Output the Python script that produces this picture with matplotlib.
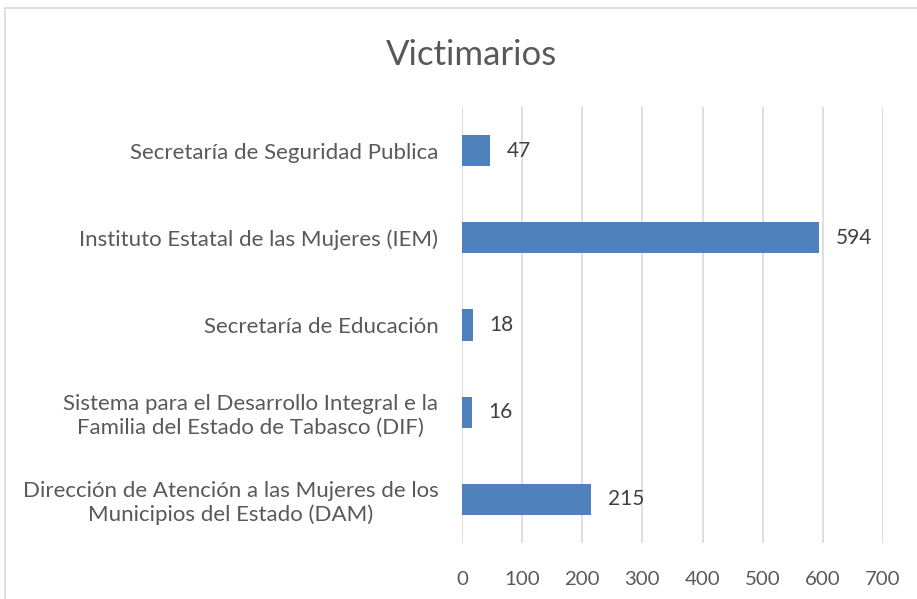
from matplotlib import pyplot as plt
from matplotlib.patches import Rectangle

categories = ["Secretaría de Seguridad Publica",
              "Instituto Estatal de las Mujeres (IEM)",
              "Secretaría de Educación",
              "Sistema para el Desarrollo Integral e la\nFamilia del Estado de Tabasco (DIF)",
              "Dirección de Atención a las Mujeres de los\nMunicipios del Estado (DAM)"]
values = [47, 594, 18, 16, 215]
x_ticks = [0, 100, 200, 300, 400, 500, 600, 700]

plt.rcParams['font.family'] = ['Lato', 'DejaVu Sans']
txt_color = '#595959'

fig = plt.figure(figsize=(9.17, 5.99), dpi=100)
fig.patches.append(Rectangle((5 / 917, -0.05), 1.1, 1.05 - 8 / 599,
                             transform=fig.transFigure, fill=False,
                             edgecolor='#d9d9d9', linewidth=1.2))
ax = fig.add_axes([462 / 917, 1 - 543 / 599, (883 - 462) / 917, (543 - 107) / 599])

pos = list(range(len(categories)))
ax.barh(pos, values, height=0.36, color='#4f81bd', zorder=3)
for p, v in zip(pos, values):
    ax.text(v + 27, p, str(v), va='center', ha='left', fontsize=15, color='#404040')

ax.set_ylim(len(categories) - 0.5, -0.5)
ax.set_xlim(0, 700)
ax.set_xticks(x_ticks)
ax.set_yticks(pos)
ax.set_yticklabels(categories, fontsize=16, color=txt_color, ha='right',
                   multialignment='center')
ax.tick_params(axis='x', labelsize=14.7, labelcolor=txt_color, length=0, pad=20)
ax.tick_params(axis='y', length=0, pad=17)
ax.grid(axis='x', color='#d9d9d9', linewidth=1.2, zorder=0)
for s in ax.spines.values():
    s.set_visible(False)

fig.text(472 / 917, 1 - 55 / 599, "Victimarios", ha='center', va='center',
         fontsize=25, color=txt_color)

fig.savefig("out.png", dpi=100)
